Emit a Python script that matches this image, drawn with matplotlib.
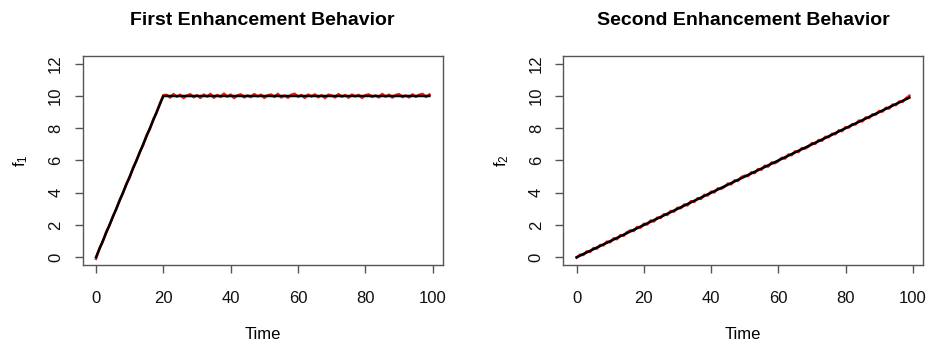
import numpy as np
import matplotlib.pyplot as plt

plt.rcParams['font.family'] = ['Liberation Sans', 'DejaVu Sans']

time = np.arange(0, 100)

# observed response, first enhancement (ramp then plateau)
f1_obs = [-0.10, 0.56, 0.95, 1.57, 1.97, 2.54, 2.96, 3.55, 3.97, 4.56,
          4.94, 5.56, 5.97, 6.54, 6.95, 7.57, 7.94, 8.55, 8.97, 9.56,
          10.05, 10.07, 9.90, 10.12, 9.95, 10.08, 9.87, 10.03, 10.11, 9.92,
          10.05, 9.88, 10.09, 9.96, 10.13, 9.89, 10.06, 9.94, 10.15, 9.95,
          10.09, 9.87, 10.04, 10.10, 9.91, 10.03, 9.93, 10.12, 9.97, 10.08,
          9.88, 10.05, 10.09, 9.94, 10.13, 9.91, 10.03, 9.89, 10.08, 10.14,
          9.95, 10.06, 9.88, 10.09, 9.97, 10.10, 9.92, 10.05, 9.87, 10.08,
          10.03, 9.91, 10.12, 9.95, 10.06, 9.89, 10.09, 9.97, 10.07, 9.88,
          10.05, 10.10, 9.94, 10.03, 9.91, 10.13, 9.95, 10.08, 9.90, 10.06,
          10.12, 9.93, 10.03, 9.91, 10.10, 9.95, 10.08, 10.13, 9.94, 10.09]

# observed response, second enhancement (steady ramp)
f2_obs = [-0.03, 0.16, 0.14, 0.36, 0.33, 0.57, 0.53, 0.76, 0.74, 0.97,
          0.93, 1.17, 1.12, 1.37, 1.33, 1.56, 1.67, 1.63, 1.88, 1.83,
          2.08, 2.03, 2.28, 2.22, 2.46, 2.44, 2.67, 2.62, 2.87, 2.83,
          3.07, 3.04, 3.27, 3.22, 3.48, 3.43, 3.66, 3.62, 3.87, 3.83,
          4.07, 4.02, 4.27, 4.24, 4.36, 4.57, 4.52, 4.77, 4.73, 4.97,
          5.06, 5.03, 5.27, 5.22, 5.47, 5.43, 5.68, 5.62, 5.88, 5.83,
          5.96, 6.17, 6.12, 6.37, 6.33, 6.57, 6.52, 6.77, 6.74, 6.86,
          7.08, 7.03, 7.27, 7.22, 7.47, 7.44, 7.66, 7.63, 7.87, 7.82,
          8.07, 8.04, 8.26, 8.23, 8.48, 8.42, 8.67, 8.63, 8.86, 8.84,
          9.07, 9.03, 9.27, 9.22, 9.47, 9.43, 9.66, 9.64, 9.86, 10.02]

# fitted curves (knots)
f1_fit_t = [0, 20, 99]
f1_fit = [0, 10, 10]
f2_fit_t = [0, 99]
f2_fit = [0, 9.9]

titles = ['First Enhancement Behavior', 'Second Enhancement Behavior']
ylabels = [r'$\mathregular{f_1}$', r'$\mathregular{f_2}$']

axis_col = '#555555'

fig = plt.figure(figsize=(9.32, 3.48), dpi=100)
ax1 = fig.add_axes([0.0887, 0.2385, 0.3863, 0.6006])
ax2 = fig.add_axes([0.6044, 0.2385, 0.3856, 0.6006])

panels = [(ax1, f1_obs, f1_fit_t, f1_fit), (ax2, f2_obs, f2_fit_t, f2_fit)]
for i, (ax, obs, ft, fv) in enumerate(panels):
    ax.plot(time, obs, color='#ff1a1a', lw=1.8)
    ax.plot(ft, fv, color='black', lw=1.8)
    ax.set_xlim(-3.96, 102.96)
    ax.set_ylim(-0.48, 12.48)
    ax.set_xticks([0, 20, 40, 60, 80, 100])
    ax.set_yticks([0, 2, 4, 6, 8, 10, 12])
    for s in ax.spines.values():
        s.set_color(axis_col)
        s.set_linewidth(1.0)
    ax.tick_params(axis='both', length=6, width=1.0, color=axis_col,
                   labelsize=12, labelcolor='#111111')
    ax.tick_params(axis='x', pad=13)
    ax.tick_params(axis='y', pad=8, labelrotation=90)
    for lab in ax.get_yticklabels():
        lab.set_va('center')
    ax.set_title(titles[i], fontsize=14, fontweight='bold', pad=22)
    ax.set_xlabel('Time', fontsize=12, labelpad=15)
    ax.set_ylabel(ylabels[i], fontsize=12, labelpad=13)

fig.savefig('out.png', dpi=100)
